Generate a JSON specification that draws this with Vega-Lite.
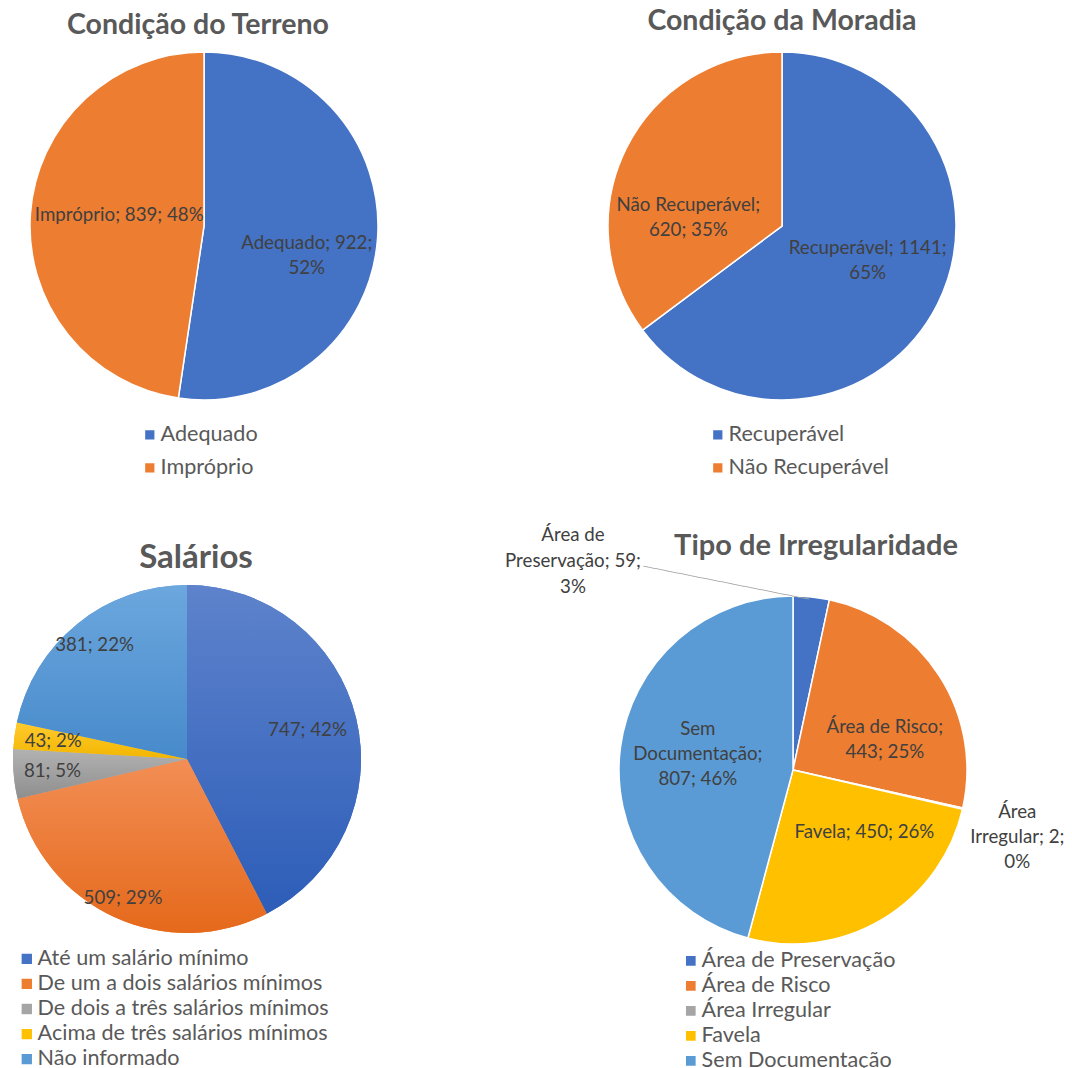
{
  "$schema": "https://vega.github.io/schema/vega-lite/v6.json",
  "background": "white",
  "padding": {"left": 13, "top": 6, "right": 0, "bottom": 0},
  "bounds": "flush",
  "align": "all",
  "columns": 2,
  "spacing": {"row": 163, "column": 213},
  "resolve": {"scale": {"color": "independent"}, "legend": {"color": "independent"}},
  "config": {
    "view": {"stroke": null},
    "font": "Lato",
    "title": {"font": "Lato", "fontSize": 28.5, "fontWeight": "bold", "color": "#595959", "anchor": "middle", "offset": 10},
    "legend": {"orient": "none", "title": null, "symbolType": "square", "symbolSize": 115, "symbolStrokeWidth": 0, "labelFont": "Lato", "labelFontSize": 21.6, "labelColor": "#595959", "labelLimit": 500, "labelOffset": 0},
    "arc": {"stroke": "white", "strokeWidth": 1.5},
    "text": {"font": "Lato", "fontSize": 18.7, "fill": "#404040", "lineBreak": "\n", "lineHeight": 25, "align": "center", "baseline": "middle"}
  },
  "concat": [
    {
      "width": 382,
      "height": 348,
      "title": {"text": "Condição do Terreno", "dx": -6},
      "data": {"values": [
        {"cat": "Adequado", "value": 922, "k": 1, "label": "Adequado; 922;\n52%"},
        {"cat": "Impróprio", "value": 839, "k": 2, "label": "Impróprio; 839; 48%"}
      ]},
      "encoding": {
        "theta": {"field": "value", "type": "quantitative", "stack": true},
        "order": {"field": "k", "type": "quantitative"}
      },
      "layer": [
        {
          "mark": {"type": "arc", "outerRadius": 174},
          "encoding": {
            "color": {"field": "cat", "type": "nominal", "sort": null,
              "scale": {"domain": ["Adequado", "Impróprio"], "range": ["#4472C4", "#ED7D31"]},
              "legend": {"legendX": 126, "legendY": 372, "rowPadding": 10}}
          }
        },
        {
          "mark": {"type": "text", "radius": 88, "dx": 15, "dy": 10},
          "encoding": {"text": {"condition": {"test": "datum.k == 1", "field": "label"}, "value": ""}}
        },
        {
          "mark": {"type": "text", "radius": 88, "dx": 3, "dy": -4},
          "encoding": {"text": {"condition": {"test": "datum.k == 2", "field": "label"}, "value": ""}}
        }
      ]
    },
    {
      "width": 348,
      "height": 348,
      "title": {"text": "Condição da Moradia", "dy": -4},
      "data": {"values": [
        {"cat": "Recuperável", "value": 1141, "k": 1, "label": "Recuperável; 1141;\n65%"},
        {"cat": "Não Recuperável", "value": 620, "k": 2, "label": "Não Recuperável;\n620; 35%"}
      ]},
      "encoding": {
        "theta": {"field": "value", "type": "quantitative", "stack": true},
        "order": {"field": "k", "type": "quantitative"}
      },
      "layer": [
        {
          "mark": {"type": "arc", "outerRadius": 174},
          "encoding": {
            "color": {"field": "cat", "type": "nominal", "sort": null,
              "scale": {"domain": ["Recuperável", "Não Recuperável"], "range": ["#4472C4", "#ED7D31"]},
              "legend": {"legendX": 99, "legendY": 372, "rowPadding": 10}}
          }
        },
        {
          "mark": {"type": "text", "radius": 88, "dx": 7, "dy": -17},
          "encoding": {"text": {"condition": {"test": "datum.k == 1", "field": "label"}, "value": ""}}
        },
        {
          "mark": {"type": "text", "radius": 88, "dx": -15, "dy": 18},
          "encoding": {"text": {"condition": {"test": "datum.k == 2", "field": "label"}, "value": ""}}
        }
      ]
    },
    {
      "width": 348,
      "height": 348,
      "title": {"text": "Salários", "dx": 9, "fontSize": 33},
      "data": {"values": [
        {"cat": "Até um salário mínimo", "value": 747, "k": 1, "label": "747; 42%"},
        {"cat": "De um a dois salários mínimos", "value": 509, "k": 2, "label": "509; 29%"},
        {"cat": "De dois a três salários mínimos", "value": 81, "k": 3, "label": "81; 5%"},
        {"cat": "Acima de três salários mínimos", "value": 43, "k": 4, "label": "43; 2%"},
        {"cat": "Não informado", "value": 381, "k": 5, "label": "381; 22%"}
      ]},
      "encoding": {
        "theta": {"field": "value", "type": "quantitative", "stack": true},
        "order": {"field": "k", "type": "quantitative"}
      },
      "layer": [
        {
          "mark": {"type": "arc", "outerRadius": 174, "strokeWidth": 0},
          "encoding": {
            "color": {"field": "cat", "type": "nominal", "sort": null,
              "scale": {"domain": ["Até um salário mínimo", "De um a dois salários mínimos", "De dois a três salários mínimos", "Acima de três salários mínimos", "Não informado"],
                        "range": ["#4472C4", "#ED7D31", "#A5A5A5", "#FFC000", "#5B9BD5"]},
              "legend": {"legendX": 3, "legendY": 363, "rowPadding": 2.1, "symbolSize": 140}}
          }
        },
        {
          "mark": {"type": "arc", "outerRadius": 174, "strokeWidth": 0,
            "fill": {"gradient": "linear", "x1": 0, "y1": 0, "x2": 0, "y2": 1, "stops": [{"offset": 0, "color": "#5E83CC"}, {"offset": 1, "color": "#2D5DB8"}]}},
          "encoding": {"opacity": {"condition": {"test": "datum.k == 1", "value": 1}, "value": 0}}
        },
        {
          "mark": {"type": "arc", "outerRadius": 174, "strokeWidth": 0,
            "fill": {"gradient": "linear", "x1": 0, "y1": 0, "x2": 0, "y2": 1, "stops": [{"offset": 0, "color": "#F28E55"}, {"offset": 1, "color": "#E5691B"}]}},
          "encoding": {"opacity": {"condition": {"test": "datum.k == 2", "value": 1}, "value": 0}}
        },
        {
          "mark": {"type": "arc", "outerRadius": 174, "strokeWidth": 0,
            "fill": {"gradient": "linear", "x1": 0, "y1": 0, "x2": 0, "y2": 1, "stops": [{"offset": 0, "color": "#B2B2B2"}, {"offset": 1, "color": "#8E8E8E"}]}},
          "encoding": {"opacity": {"condition": {"test": "datum.k == 3", "value": 1}, "value": 0}}
        },
        {
          "mark": {"type": "arc", "outerRadius": 174, "strokeWidth": 0,
            "fill": {"gradient": "linear", "x1": 0, "y1": 0, "x2": 0, "y2": 1, "stops": [{"offset": 0, "color": "#FFCB2E"}, {"offset": 1, "color": "#F2B500"}]}},
          "encoding": {"opacity": {"condition": {"test": "datum.k == 4", "value": 1}, "value": 0}}
        },
        {
          "mark": {"type": "arc", "outerRadius": 174, "strokeWidth": 0,
            "fill": {"gradient": "linear", "x1": 0, "y1": 0, "x2": 0, "y2": 1, "stops": [{"offset": 0, "color": "#6CA7DE"}, {"offset": 1, "color": "#478ACB"}]}},
          "encoding": {"opacity": {"condition": {"test": "datum.k == 5", "value": 1}, "value": 0}}
        },
        {
          "mark": {"type": "text", "radius": 124},
          "encoding": {"text": {"condition": {"test": "datum.k == 1", "field": "label"}, "value": ""}}
        },
        {
          "mark": {"type": "text", "radius": 153},
          "encoding": {"text": {"condition": {"test": "datum.k == 2", "field": "label"}, "value": ""}}
        },
        {
          "mark": {"type": "text", "radius": 135},
          "encoding": {"text": {"condition": {"test": "datum.k == 3 || datum.k == 4", "field": "label"}, "value": ""}}
        },
        {
          "mark": {"type": "text", "radius": 147},
          "encoding": {"text": {"condition": {"test": "datum.k == 5", "field": "label"}, "value": ""}}
        }
      ]
    },
    {
      "width": 370,
      "height": 370,
      "title": {"text": "Tipo de Irregularidade", "dx": 23, "dy": 48, "fontSize": 29},
      "data": {"values": [
        {"cat": "Área de Preservação", "value": 59, "k": 1, "label": "Área de\nPreservação; 59;\n3%"},
        {"cat": "Área de Risco", "value": 443, "k": 2, "label": "Área de Risco;\n443; 25%"},
        {"cat": "Área Irregular", "value": 2, "k": 3, "label": "Área\nIrregular; 2;\n0%"},
        {"cat": "Favela", "value": 450, "k": 4, "label": "Favela; 450; 26%"},
        {"cat": "Sem Documentação", "value": 807, "k": 5, "label": "Sem\nDocumentação;\n807; 46%"}
      ]},
      "encoding": {
        "theta": {"field": "value", "type": "quantitative", "stack": true},
        "order": {"field": "k", "type": "quantitative"}
      },
      "layer": [
        {
          "mark": {"type": "arc", "outerRadius": 174},
          "encoding": {
            "color": {"field": "cat", "type": "nominal", "sort": null,
              "scale": {"domain": ["Área de Preservação", "Área de Risco", "Área Irregular", "Favela", "Sem Documentação"],
                        "range": ["#4472C4", "#ED7D31", "#A5A5A5", "#FFC000", "#5B9BD5"]},
              "legend": {"legendX": 72, "legendY": 365, "rowPadding": 2.0, "symbolSize": 125}}
          }
        },
        {
          "mark": {"type": "text", "radius": 96, "dx": 11, "dy": 9},
          "encoding": {"text": {"condition": {"test": "datum.k == 2", "field": "label"}, "value": ""}}
        },
        {
          "mark": {"type": "text", "radius": 96, "dx": 22, "dy": -20},
          "encoding": {"text": {"condition": {"test": "datum.k == 4", "field": "label"}, "value": ""}}
        },
        {
          "mark": {"type": "text", "radius": 96, "dx": 0, "dy": -28},
          "encoding": {"text": {"condition": {"test": "datum.k == 5", "field": "label"}, "value": ""}}
        },
        {
          "mark": {"type": "text", "radius": 230, "dy": -9},
          "encoding": {"text": {"condition": {"test": "datum.k == 3", "field": "label"}, "value": ""}}
        },
        {
          "mark": {"type": "text", "radius": 200, "dx": -241, "dy": -36, "lineHeight": 26},
          "encoding": {"text": {"condition": {"test": "datum.k == 1", "field": "label"}, "value": ""}}
        },
        {
          "mark": {"type": "text", "radius": 200, "dx": -84, "dy": 29, "angle": 11.3, "font": "DejaVu Sans Mono", "fontSize": 10, "fill": "#A6A6A6"},
          "encoding": {"text": {"condition": {"test": "datum.k == 1", "value": "────────────────────────────"}, "value": ""}}
        }
      ]
    }
  ]
}
